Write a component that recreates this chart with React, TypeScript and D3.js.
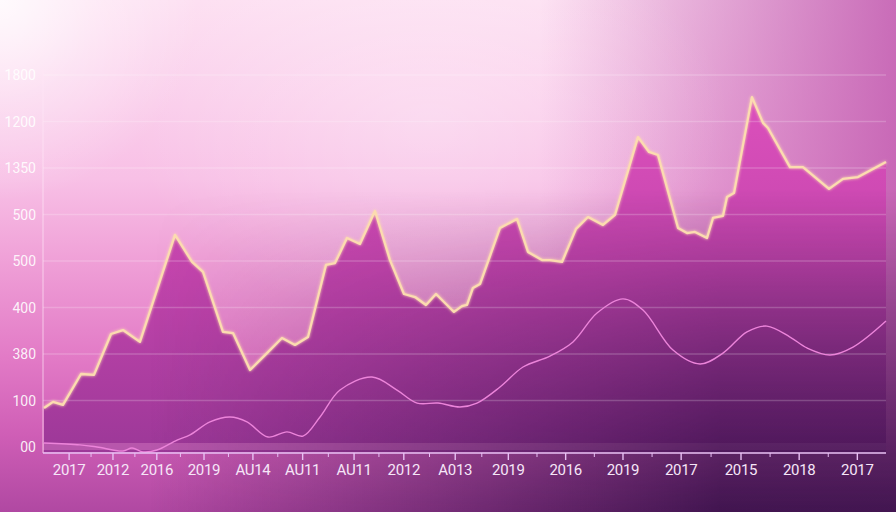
import React from "react";
import * as d3 from "d3";

const W = 896;
const H = 512;

// x positions (0..100 domain) and values for the main (peach) series
const mainX = [0.12, 1.19, 2.37, 4.51, 6.05, 8.07, 9.49, 11.5, 15.66, 17.68, 18.98, 21.35, 22.54, 24.56, 26.57, 28.35, 29.89, 31.44, 33.57, 34.64, 36.06, 37.6, 39.38, 41.16, 42.82, 44.13, 45.43, 46.62, 48.28, 48.75, 49.7, 50.3, 51.0, 51.84, 54.21, 56.23, 57.53, 59.19, 60.14, 61.57, 63.23, 64.65, 66.43, 67.85, 70.58, 71.89, 72.95, 75.33, 76.39, 77.34, 78.77, 79.48, 80.66, 81.14, 81.97, 84.1, 85.41, 86.0, 88.61, 90.15, 93.24, 94.9, 96.68, 100];
const mainY = [168, 194, 181, 314, 310, 486, 503, 452, 912, 796, 753, 495, 490, 331, 404, 469, 439, 473, 783, 791, 899, 873, 1015, 804, 658, 645, 611, 658, 598, 581, 606, 611, 684, 701, 942, 981, 839, 804, 804, 796, 938, 989, 955, 998, 1333, 1269, 1256, 942, 920, 925, 899, 985, 994, 1075, 1092, 1505, 1394, 1372, 1204, 1204, 1110, 1153, 1161, 1226];

// secondary (pink) smooth series
const pinkX = [0.12, 4.39, 6.41, 9.49, 10.56, 11.86, 13.52, 15.9, 17.44, 19.81, 22.18, 24.2, 26.69, 28.94, 30.84, 32.86, 35.23, 39.03, 41.99, 44.37, 46.86, 49.47, 51.48, 54.21, 56.94, 60.14, 62.87, 65.72, 68.8, 71.17, 74.73, 77.94, 80.66, 83.51, 85.88, 88.61, 90.63, 93.36, 96.09, 100];
const pinkY = [17, 9, 0, -17, -4, -21, -13, 30, 52, 108, 129, 108, 43, 65, 47, 129, 245, 301, 245, 189, 189, 172, 189, 258, 344, 391, 452, 576, 637, 589, 417, 357, 404, 495, 520, 473, 426, 396, 430, 542];

// thin baseline band series
const bandX = [0, 100];
const bandLow = [-13, -13];
const bandHigh = [17, 17];

const yTicks = [0, 200, 400, 600, 800, 1000, 1200, 1400, 1600];
const yLabels = ["00", "100", "380", "400", "500", "500", "1350", "1200", "1800"];

const xTickPos = [3.1, 8.3, 13.5, 19.1, 24.9, 30.8, 36.9, 42.8, 48.9, 55.2, 62.0, 68.8, 75.7, 82.8, 89.7, 96.6];
const xTickLabels = ["2017", "2012", "2016", "2019", "AU14", "AU11", "AU11", "2012", "A013", "2019", "2016", "2019", "2017", "2015", "2018", "2017"];

export default function App() {
  const x = d3.scaleLinear().domain([0, 100]).range([43, 886]);
  const y = d3.scaleLinear().domain([0, 1600]).range([447, 75]);

  const mainData = mainX.map((v, i) => [v, mainY[i]] as [number, number]);
  const pinkData = pinkX.map((v, i) => [v, pinkY[i]] as [number, number]);
  const bandData = bandX.map((v, i) => ({ x: v, lo: bandLow[i], hi: bandHigh[i] }));

  const lineGen = d3.line<[number, number]>().x((d) => x(d[0])).y((d) => y(d[1]));
  const areaGen = d3
    .area<[number, number]>()
    .x((d) => x(d[0]))
    .y0(y(0) + 5)
    .y1((d) => y(d[1]));
  const pinkGen = d3
    .line<[number, number]>()
    .x((d) => x(d[0]))
    .y((d) => y(d[1]))
    .curve(d3.curveCatmullRom.alpha(0.5));
  const bandGen = d3
    .area<{ x: number; lo: number; hi: number }>()
    .x((d) => x(d.x))
    .y0((d) => y(d.lo))
    .y1((d) => y(d.hi));

  const minorTicks = xTickPos.slice(0, -1).map((p, i) => (p + xTickPos[i + 1]) / 2);
  const axisY = y(0) + 6;
  const font = "Roboto, 'Liberation Sans', sans-serif";

  return (
    <svg
      width={W}
      height={H}
      style={{ position: "absolute", left: 0, top: 0, display: "block" }}
    >
      <defs>
        <linearGradient id="bgV" x1="0" y1="0" x2="0" y2={H} gradientUnits="userSpaceOnUse">
          <stop offset="0" stopColor="#fde0f2" />
          <stop offset="0.35" stopColor="#f8c0e6" />
          <stop offset="0.5" stopColor="#f0a2d8" />
          <stop offset="0.7" stopColor="#e27ac6" />
          <stop offset="0.85" stopColor="#cf5eb6" />
          <stop offset="1" stopColor="#b048a2" />
        </linearGradient>
        <linearGradient id="tint" x1="540" y1="0" x2="896" y2="0" gradientUnits="userSpaceOnUse">
          <stop offset="0" stopColor="#c058ae" stopOpacity="0" />
          <stop offset="1" stopColor="#c058ae" stopOpacity="0.85" />
        </linearGradient>
        <radialGradient id="glowC" cx="0" cy="0" r="1" gradientUnits="userSpaceOnUse"
          gradientTransform="translate(430,120) scale(300,200)">
          <stop offset="0" stopColor="#ffffff" stopOpacity="0.3" />
          <stop offset="0.5" stopColor="#ffffff" stopOpacity="0.15" />
          <stop offset="1" stopColor="#ffffff" stopOpacity="0" />
        </radialGradient>
        <radialGradient id="glowTL" cx="0" cy="0" r="200" gradientUnits="userSpaceOnUse">
          <stop offset="0" stopColor="#ffffff" stopOpacity="0.85" />
          <stop offset="0.5" stopColor="#ffffff" stopOpacity="0.35" />
          <stop offset="1" stopColor="#ffffff" stopOpacity="0" />
        </radialGradient>
        <linearGradient id="areaFill" x1="0" y1="97" x2="0" y2="453" gradientUnits="userSpaceOnUse">
          <stop offset="0" stopColor="#dc50bc" />
          <stop offset="0.45" stopColor="#c646ae" />
          <stop offset="1" stopColor="#9c3898" />
        </linearGradient>
        <linearGradient id="darkH" x1="150" y1="0" x2="720" y2="0" gradientUnits="userSpaceOnUse">
          <stop offset="0" stopColor="#2c0a40" stopOpacity="0" />
          <stop offset="1" stopColor="#2c0a40" stopOpacity="0.85" />
        </linearGradient>
        <linearGradient id="maskV" x1="0" y1="190" x2="0" y2="512" gradientUnits="userSpaceOnUse">
          <stop offset="0" stopColor="#000" />
          <stop offset="1" stopColor="#fff" />
        </linearGradient>
        <mask id="darkMask" maskUnits="userSpaceOnUse" x="0" y="0" width={W} height={H}>
          <rect x={0} y={0} width={W} height={H} fill="url(#maskV)" />
        </mask>
        <filter id="lineGlow" x="-10%" y="-10%" width="120%" height="120%">
          <feGaussianBlur stdDeviation="1.5" result="b" />
          <feMerge>
            <feMergeNode in="b" />
            <feMergeNode in="SourceGraphic" />
          </feMerge>
        </filter>
      </defs>

      <rect x={0} y={0} width={W} height={H} fill="url(#bgV)" />
      <rect x={0} y={0} width={W} height={H} fill="url(#tint)" />
      <rect x={0} y={0} width={W} height={H} fill="url(#glowC)" />
      <rect x={0} y={0} width={W} height={H} fill="url(#glowTL)" />

      {/* area */}
      <path d={areaGen(mainData) || ""} fill="url(#areaFill)" />

      {/* baseline band */}
      <path d={bandGen(bandData) || ""} fill="#f4a0dc" fillOpacity={0.3} />

      {/* darkening overlay towards bottom right */}
      <rect x={0} y={0} width={W} height={H} fill="url(#darkH)" mask="url(#darkMask)" />

      {/* gridlines */}
      {yTicks.slice(1).map((t) => (
        <line
          key={"g" + t}
          x1={43}
          x2={886}
          y1={y(t)}
          y2={y(t)}
          stroke="#ffffff"
          strokeOpacity={0.2}
          strokeWidth={1.3}
        />
      ))}

      {/* y axis line */}
      <line x1={43} x2={43} y1={70} y2={axisY} stroke="#ffe6f6" strokeOpacity={0.7} strokeWidth={1} />

      {/* pink line */}
      <path d={pinkGen(pinkData) || ""} fill="none" stroke="#ec84da" strokeWidth={1.4} />

      {/* main line */}
      <path
        d={lineGen(mainData) || ""}
        fill="none"
        stroke="#fcdcb0"
        strokeWidth={2.3}
        strokeLinejoin="round"
        filter="url(#lineGlow)"
      />

      {/* x axis */}
      <line x1={43} x2={886} y1={axisY} y2={axisY} stroke="#e8c0f4" strokeWidth={1.6} />
      {xTickPos.map((p, i) => (
        <line key={"mt" + i} x1={x(p)} x2={x(p)} y1={axisY} y2={axisY + 7} stroke="#e8c0f4" strokeWidth={1.4} />
      ))}
      {minorTicks.map((p, i) => (
        <line key={"nt" + i} x1={x(p)} x2={x(p)} y1={axisY} y2={axisY + 4} stroke="#e8c0f4" strokeWidth={1} />
      ))}
      {xTickPos.map((p, i) => (
        <text
          key={"xl" + i}
          x={x(p)}
          y={470}
          textAnchor="middle"
          dominantBaseline="central"
          fill="#f6e6f8"
          fontFamily={font}
          fontSize={15}
          letterSpacing={-0.3}
        >
          {xTickLabels[i]}
        </text>
      ))}

      {/* y labels */}
      {yTicks.map((t, i) => (
        <text
          key={"yl" + t}
          x={36}
          y={y(t)}
          textAnchor="end"
          dominantBaseline="central"
          fill="#ffffff"
          fillOpacity={0.9}
          fontFamily={font}
          fontSize={14}
        >
          {yLabels[i]}
        </text>
      ))}
    </svg>
  );
}
